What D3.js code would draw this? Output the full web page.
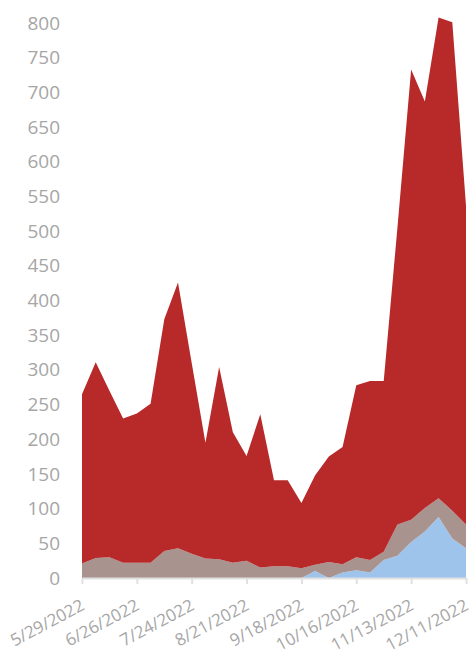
<!DOCTYPE html>
<html>
<head>
<meta charset="utf-8">
<script src="https://cdn.jsdelivr.net/npm/d3@7"></script>
<style>
  body { margin: 0; background: #fff; }
  svg text { font-family: "Open Sans", "Noto Sans", sans-serif; fill: #a6a6a6; }
</style>
</head>
<body>
<div id="chart"></div>
<script>
// DATA - weekly, stacked bottom to top
var weeks = ["5/29/2022","6/5/2022","6/12/2022","6/19/2022","6/26/2022","7/3/2022","7/10/2022","7/17/2022",
  "7/24/2022","7/31/2022","8/7/2022","8/14/2022","8/21/2022","8/28/2022","9/4/2022","9/11/2022",
  "9/18/2022","9/25/2022","10/2/2022","10/9/2022","10/16/2022","10/23/2022","10/30/2022","11/6/2022",
  "11/13/2022","11/20/2022","11/27/2022","12/4/2022","12/11/2022"];
var blueVals = [0,0,0,0,0,0,0,0,0,0,0,0,0,0,0,0,0,10,0,8,11,8,26,32,52,67,88,57,43];
var grayVals = [21,29,30,22,22,22,39,43,35,28,27,22,25,15,17,17,14,9,23,12,19,18,12,45,32,34,27,40,34];
var redVals  = [244,282,240,208,215,229,334,383,275,167,277,188,151,221,124,124,94,129,152,169,248,258,246,428,649,586,693,704,460];
var yTicks = [0,50,100,150,200,250,300,350,400,450,500,550,600,650,700,750,800];
var keys = ["blue","gray","red"];
var colours = {blue: "#9fc4ec", gray: "#a8938f", red: "#b8292a"};

var width = 474, height = 655;
var svg = d3.select("#chart").append("svg")
  .attr("width", width).attr("height", height);

// build table for the stack
var rows = [];
for (i = 0; i < weeks.length; i++) {
  rows.push({week: weeks[i], blue: blueVals[i], gray: grayVals[i], red: redVals[i]});
}
var stacked = d3.stack().keys(keys)(rows);

var x = d3.scalePoint().domain(weeks).range([82, 466]);
var y = d3.scaleLinear().domain([0, 800]).range([578, 23]);

// areas
var area = d3.area()
  .x(function(d) { return x(d.data.week); })
  .y0(function(d) { return y(d[0]); })
  .y1(function(d) { return y(d[1]); });

svg.selectAll("path.layer")
  .data(stacked)
  .enter()
  .append("path")
    .attr("class", "layer")
    .attr("fill", function(d) { return colours[d.key]; })
    .attr("d", area);

// x axis
var xAxis = svg.append("g")
  .attr("transform", "translate(0,578)")
  .call(d3.axisBottom(x)
    .tickValues(weeks.filter(function(d, i) { return i % 4 == 0; }))
    .tickSize(6)
    .tickSizeOuter(0));
xAxis.select(".domain").attr("stroke", "#e0e0e0").attr("stroke-width", 2);
xAxis.selectAll(".tick line").attr("stroke", "#e0e0e0").attr("stroke-width", 2);
xAxis.selectAll(".tick text")
  .attr("y", 0).attr("dy", 0)
  .attr("transform", "translate(3,31) rotate(-28)")
  .style("text-anchor", "end")
  .style("font-size", "17px")
  .attr("fill", "#a6a6a6");

// y axis, labels only
var yAxis = svg.append("g")
  .attr("transform", "translate(60,0)")
  .call(d3.axisLeft(y).tickValues(yTicks).tickSize(0).tickPadding(0));
yAxis.select(".domain").remove();
yAxis.selectAll(".tick text")
  .style("font-size", "19px")
  .attr("fill", "#a6a6a6");
</script>
</body>
</html>
